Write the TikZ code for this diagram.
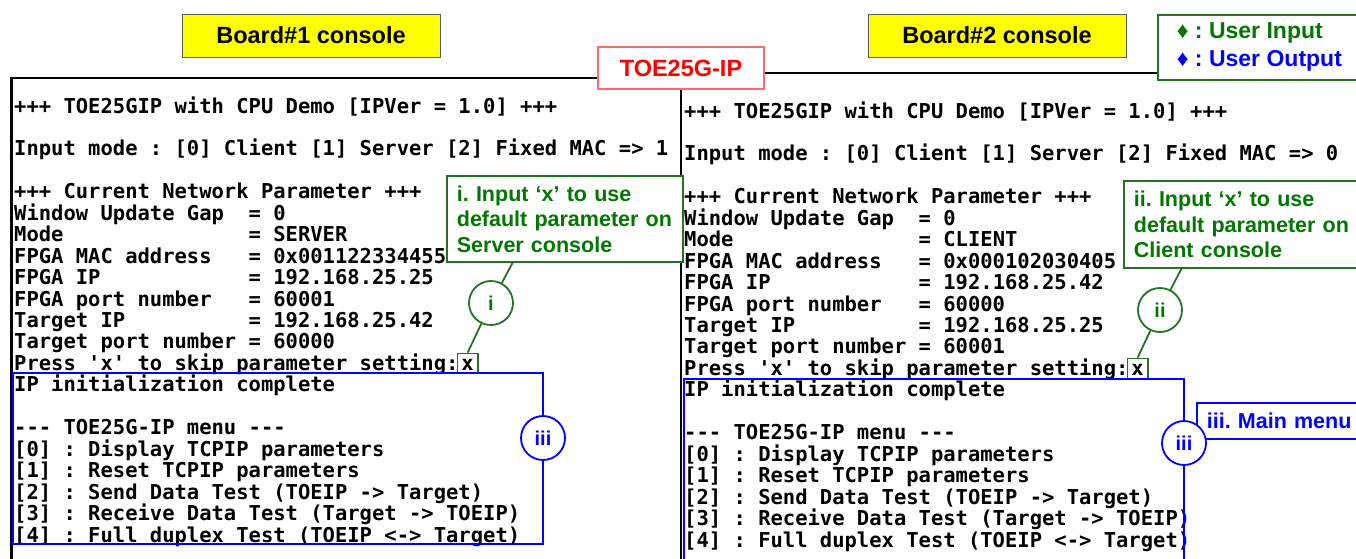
\documentclass[tikz,border=0pt]{standalone}
\usepackage{fontspec}
\setmainfont{Liberation Sans}
\newfontfamily\confont{DejaVu Sans Mono}
\usetikzlibrary{positioning,calc}
\frenchspacing

\definecolor{calgreen}{RGB}{0,120,0}
\definecolor{boxgreen}{RGB}{35,115,35}
\definecolor{outblue}{RGB}{0,0,255}
\definecolor{ipred}{RGB}{255,0,0}
\definecolor{ipframe}{RGB}{255,105,105}
\definecolor{boardyellow}{RGB}{255,255,0}

% one parameter line: name padded to 19 columns
\newcommand{\parmline}[2]{\makebox[19\fontcharwd\font`M][l]{#1}= #2}

\tikzset{
  conline/.style={anchor=base west, inner sep=0pt, font=\confont\fontsize{20.5}{21.45}\selectfont\bfseries},
  board/.style={draw=black!65, fill=boardyellow, line width=1pt, minimum width=258pt, minimum height=43pt,
    font=\fontsize{23.5}{26}\selectfont\bfseries},
  iptag/.style={draw=ipframe, fill=white, line width=1.2pt, text=ipred, minimum width=166pt, minimum height=42pt,
    font=\fontsize{23.5}{26}\selectfont\bfseries},
  notebox/.style={draw=boxgreen, fill=white, line width=1.8pt, anchor=north west, align=left, inner xsep=10pt,
    text=calgreen, font=\fontsize{21.5}{25.5}\selectfont\bfseries},
  xbox/.style={draw=boxgreen, line width=1.5pt, anchor=base west, inner xsep=4pt, inner ysep=0pt,
    text height=17pt, text depth=3pt, font=\confont\fontsize{20.5}{21.45}\selectfont\bfseries},
  numtag/.style={circle, draw=boxgreen, fill=white, line width=1.8pt, minimum size=44pt, inner sep=0pt,
    text=calgreen, font=\fontsize{20}{22}\selectfont\bfseries},
  conn/.style={boxgreen, line width=1.8pt},
  menubox/.style={outblue, line width=1.8pt}
}

\begin{document}
\begin{tikzpicture}[x=1pt,y=-1pt]
  \useasboundingbox (0,0) rectangle (1356,558);
  \clip (0,0) rectangle (1356,558);

  % Titles
  \node[board] (b1) at (311,35.5) {Board\#1 console};
  \node[board] (b2) at (997,35.5) {Board\#2 console};

  % Console frames
  \draw[line width=1.5pt] (598,78) -- (11,78);
  \draw[line width=3pt] (11,77) -- (11,570);
  \draw[line width=2.5pt] (681,89) -- (681,570);
  \draw[line width=1.5pt] (764,73) -- (1157,73);
  \node[iptag] (ip) at (681,68) {TOE25G-IP};

  % Board#1 console text
  \foreach \k/\txt in {0/{+++ TOE25GIP with CPU Demo [IPVer = 1.0] +++},
      2/{Input mode : [0] Client [1] Server [2] Fixed MAC => 1},
      4/{+++ Current Network Parameter +++},
      5/{\parmline{Window Update Gap}{0}},
      6/{\parmline{Mode}{SERVER}},
      7/{\parmline{FPGA MAC address}{0x001122334455}},
      8/{\parmline{FPGA IP}{192.168.25.25}},
      9/{\parmline{FPGA port number}{60001}},
      10/{\parmline{Target IP}{192.168.25.42}},
      11/{\parmline{Target port number}{60000}},
      12/{Press 'x' to skip parameter setting:},
      13/{IP initialization complete},
      15/{{-}{-}{-} TOE25G-IP menu {-}{-}{-}},
      16/{[0] : Display TCPIP parameters},
      17/{[1] : Reset TCPIP parameters},
      18/{[2] : Send Data Test (TOEIP -> Target)},
      19/{[3] : Receive Data Test (Target -> TOEIP)},
      20/{[4] : Full duplex Test (TOEIP <-> Target)}}
    \node[conline] (la\k) at (14,{113+21.45*\k}) {\txt};
  \node[xbox] (xa) at ([xshift=-2pt]la12.base east) {x};

  % Board#2 console text
  \foreach \k/\txt in {0/{+++ TOE25GIP with CPU Demo [IPVer = 1.0] +++},
      2/{Input mode : [0] Client [1] Server [2] Fixed MAC => 0},
      4/{+++ Current Network Parameter +++},
      5/{\parmline{Window Update Gap}{0}},
      6/{\parmline{Mode}{CLIENT}},
      7/{\parmline{FPGA MAC address}{0x000102030405}},
      8/{\parmline{FPGA IP}{192.168.25.42}},
      9/{\parmline{FPGA port number}{60000}},
      10/{\parmline{Target IP}{192.168.25.25}},
      11/{\parmline{Target port number}{60001}},
      12/{Press 'x' to skip parameter setting:}}
    \node[conline] (lb\k) at (684,{118+21.45*\k}) {\txt};
  \node[xbox] (xb) at ([xshift=-2pt]lb12.base east) {x};
  \begin{scope}
    \clip (682,380) rectangle (1186,560);
    \foreach \k/\txt in {13/{IP initialization complete},
        15/{{-}{-}{-} TOE25G-IP menu {-}{-}{-}},
        16/{[0] : Display TCPIP parameters},
        17/{[1] : Reset TCPIP parameters},
        18/{[2] : Send Data Test (TOEIP -> Target)},
        19/{[3] : Receive Data Test (Target -> TOEIP)},
        20/{[4] : Full duplex Test (TOEIP <-> Target)}}
      \node[conline] (lb\k) at (684,{118+21.45*\k}) {\txt};
  \end{scope}

  % Main menu boxes
  \draw[menubox] (13,373) rectangle (543,544);
  \draw[menubox] (684,379) rectangle (1184,575);

  % Notes
  \node[notebox, text width=216pt, minimum height=86pt] (calla) at (446,175)
    {i. Input ‘x’ to use\\default parameter on\\Server console};
  \node[notebox, text width=240pt, minimum height=87pt] (callb) at (1123,180)
    {ii. Input ‘x’ to use\\default parameter on\\Client console};
  \node[notebox, draw=outblue, text=outblue, text width=200pt, minimum height=36pt] (callc) at (1196,402)
    {iii. Main menu};

  % Legend
  \node[draw=boxgreen, fill=white, line width=1.8pt, anchor=north west, align=left, inner xsep=14pt,
    minimum width=203pt, minimum height=65pt, font=\fontsize{23}{28}\selectfont\bfseries] (legend) at (1157,14)
    {\textcolor{calgreen}{♦ : User Input}\\\textcolor{outblue}{♦ : User Output}};

  % Connectors and step marks
  \node[numtag] (ci) at (491,303) {i};
  \node[numtag] (cii) at (1160,310) {ii};
  \draw[conn] (xa.north) -- (ci);
  \draw[conn] (ci) -- ($(calla.south west)!0.28!(calla.south east)$);
  \draw[conn] (xb.north) -- (cii);
  \draw[conn] (cii) -- ($(callb.south west)!0.223!(callb.south east)$);
  \node[numtag, draw=outblue, text=outblue] (ciiia) at (543,438) {iii};
  \node[numtag, draw=outblue, text=outblue] (ciiib) at (1184,443) {iii};
\end{tikzpicture}
\end{document}
